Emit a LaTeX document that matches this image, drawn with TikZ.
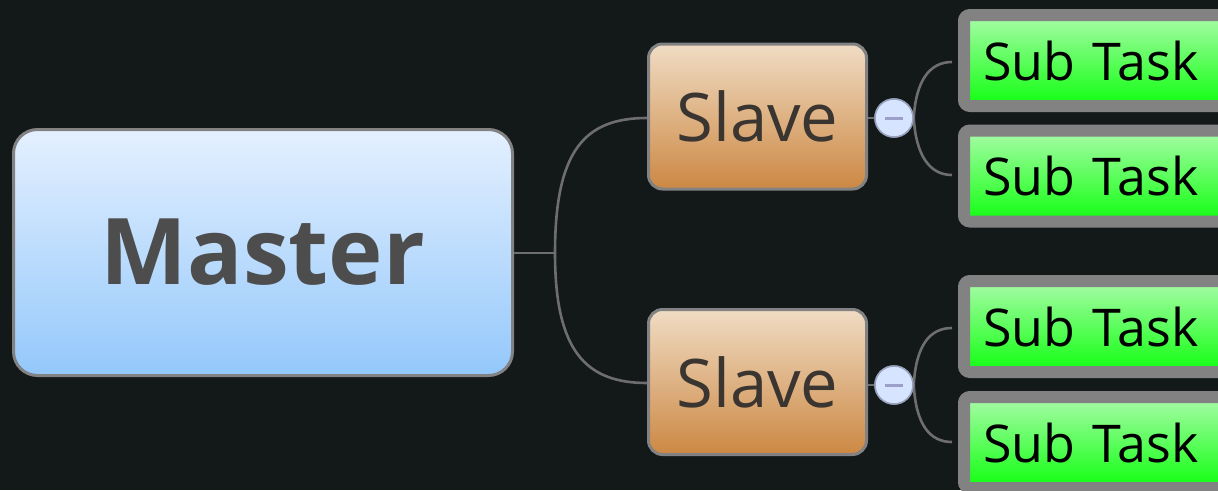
\documentclass[tikz,border=0pt]{standalone}
\usepackage{fontspec}
\setmainfont{Open Sans}
\definecolor{bg}{HTML}{131819}
\definecolor{edge}{HTML}{6E6E6E}
\definecolor{frame}{HTML}{828282}
\definecolor{mtop}{HTML}{E4F0FF}
\definecolor{mbot}{HTML}{94C8FB}
\definecolor{stop}{HTML}{F0DCC4}
\definecolor{sbot}{HTML}{CC8843}
\definecolor{gtop}{HTML}{A8FCA8}
\definecolor{gbot}{HTML}{10FF10}
\definecolor{mtext}{HTML}{4D4D4D}
\definecolor{stext}{HTML}{3A3530}
\definecolor{knob}{HTML}{D6E4FF}
\definecolor{knobedge}{HTML}{98A2BE}
\definecolor{knobbar}{HTML}{9AA0C8}
\tikzset{
  masterbox/.style={draw=frame, line width=3pt, rounded corners=24pt, top color=mtop, bottom color=mbot,
    minimum width=499pt, minimum height=246pt, text=mtext, font=\bfseries\fontsize{92}{96}\selectfont, inner sep=0pt},
  slavebox/.style={draw=frame, line width=3pt, rounded corners=14pt, top color=stop, bottom color=sbot,
    minimum width=218pt, minimum height=145pt, text=stext, font=\fontsize{67}{72}\selectfont, inner sep=0pt},
  subbox/.style={draw=frame, line width=12pt, rounded corners=6pt, top color=gtop, bottom color=gbot,
    anchor=west, minimum height=91pt, text width=270pt, align=left, inner xsep=19pt, inner ysep=0pt,
    text=black, font=\fontsize{52}{56}\selectfont},
  knobnode/.style={circle, draw=knobedge, line width=1.5pt, fill=knob, minimum size=38pt, inner sep=0pt},
  conn/.style={draw=edge, line width=2.6pt},
}
\begin{document}
\begin{tikzpicture}[x=1pt, y=-1pt]
\fill[bg] (0,0) rectangle (1218,490);
\useasboundingbox (0,0) rectangle (1218,490);
\clip (0,0) rectangle (1218,490);
% nodes
\node[masterbox] (m) at (263,252.5) {Master};
\node[slavebox] (s1) at (757.5,116.5) {Slave};
\node[slavebox] (s2) at (757.5,382) {Slave};
\node[knobnode] (k1) at (894,118) {};
\node[knobnode] (k2) at (894,385) {};
\node[subbox] (t1) at (958,60.5) {Sub Task};
\node[subbox] (t2) at (958,176) {Sub Task};
\node[subbox] (t3) at (958,326.5) {Sub Task};
\node[subbox] (t4) at (958,442.5) {Sub Task};
\coordinate (j1) at (555,253);
% connectors
\draw[conn] (m.east |- j1) -- (j1);
\draw[conn] (j1) .. controls (555,150) and (585,118) .. (s1.west |- 0,118);
\draw[conn] (j1) .. controls (555,350) and (585,383) .. (s2.west |- 0,383);
\draw[conn] (s1.east |- k1) -- (k1.west);
\draw[conn] (s2.east |- k2) -- (k2.west);
\draw[conn] (k1.east) .. controls (916,80) and (930,62) .. ([xshift=-6pt]t1.west |- 0,62);
\draw[conn] (k1.east) .. controls (916,156) and (930,175) .. ([xshift=-6pt]t2.west |- 0,175);
\draw[conn] (k2.east) .. controls (916,345) and (930,328) .. ([xshift=-6pt]t3.west |- 0,328);
\draw[conn] (k2.east) .. controls (916,425) and (930,442) .. ([xshift=-6pt]t4.west |- 0,442);
% knobs on top
\node[knobnode] at (k1) {};
\node[knobnode] at (k2) {};
\draw[knobbar, line width=3pt] ([xshift=-9pt]k1.center) -- ([xshift=9pt]k1.center);
\draw[knobbar, line width=3pt] ([xshift=-9pt]k2.center) -- ([xshift=9pt]k2.center);
\end{tikzpicture}
\end{document}
